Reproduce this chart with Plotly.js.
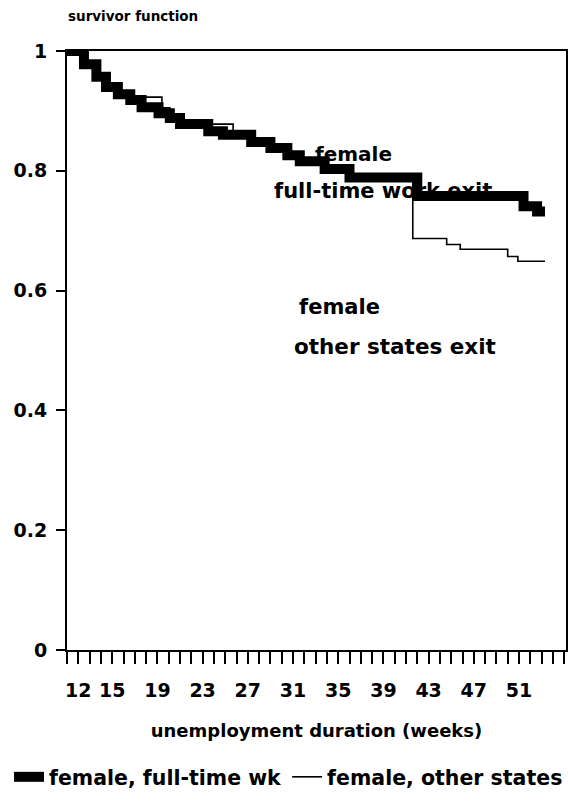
<!DOCTYPE html>
<html>
<head>
<meta charset="utf-8">
<script src="https://cdn.plot.ly/plotly-3.0.1.min.js"></script>
<style>html,body{margin:0;padding:0;background:#fff;}#chart{width:568px;height:801px;}</style>
</head>
<body>
<div id="chart"></div>
<script>
// Survivor function, female, full-time work exit (weeks, survival)
var fullTimeWeeks = [11, 12.5, 13.6, 14.45, 15.5, 16.6, 17.6, 19.1, 20.1, 21.0, 23.5, 24.8, 27.3, 29.0, 30.5, 31.6, 33.8, 36.0, 42.0, 51.4, 52.6, 53.3];
var fullTimeSurv  = [1.0, 0.978, 0.957, 0.940, 0.928, 0.918, 0.906, 0.896, 0.888, 0.878, 0.866, 0.860, 0.848, 0.838, 0.826, 0.816, 0.803, 0.789, 0.758, 0.741, 0.732, 0.732];

// Survivor function, female, other states exit
var otherWeeks = [11, 12.5, 13.6, 14.45, 15.5, 16.6, 19.4, 20.1, 21.0, 25.7, 27.3, 29.0, 30.5, 31.6, 33.8, 36.0, 41.6, 44.6, 45.8, 50.0, 50.9, 53.3];
var otherSurv  = [1.0, 0.978, 0.960, 0.945, 0.932, 0.923, 0.905, 0.893, 0.878, 0.862, 0.850, 0.840, 0.830, 0.820, 0.805, 0.792, 0.687, 0.677, 0.669, 0.657, 0.649, 0.649];

var seriesNames = ['female, full-time wk', 'female, other states'];
var xTickLabels = [12, 15, 19, 23, 27, 31, 35, 39, 43, 47, 51];
var yTickVals = [0, 0.2, 0.4, 0.6, 0.8, 1];
var firstWeek = 11, lastWeek = 55;

var tickVals = [], tickText = [];
for (var w = firstWeek; w <= lastWeek; w++) {
  tickVals.push(w);
  tickText.push(xTickLabels.indexOf(w) >= 0 ? String(w) : '');
}

var FONT = 'DejaVu Sans, sans-serif';

var traces = [
  {x: fullTimeWeeks, y: fullTimeSurv, name: seriesNames[0], type: 'scatter', mode: 'lines',
   line: {shape: 'hv', color: '#000', width: 10}},
  {x: otherWeeks, y: otherSurv, name: seriesNames[1], type: 'scatter', mode: 'lines',
   line: {shape: 'hv', color: '#000', width: 1.6}}
];

var layout = {
  width: 568, height: 801,
  margin: {l: 67, r: 2, t: 51, b: 151, pad: 0},
  paper_bgcolor: '#fff', plot_bgcolor: '#fff',
  showlegend: true,
  font: {family: FONT, color: '#000'},
  title: {text: 'survivor function', x: 68/568, xanchor: 'left', y: 1 - 16/801, yanchor: 'middle',
          font: {family: FONT, size: 13.5, weight: 'bold', color: '#000'}},
  xaxis: {
    range: [11, 11 + 499/11.3], tickmode: 'array', tickvals: tickVals, ticktext: tickText,
    ticks: 'outside', ticklen: 12, tickwidth: 2, tickcolor: '#000',
    showline: true, linecolor: '#000', linewidth: 2, mirror: true,
    showgrid: false, zeroline: false, ticklabelstandoff: 10,
    tickfont: {family: FONT, size: 19, weight: 'bold', color: '#000'},
    title: {text: 'unemployment duration (weeks)', standoff: 25,
            font: {family: FONT, size: 18, weight: 'bold', color: '#000'}},
    automargin: false
  },
  yaxis: {
    range: [0, 1], tickmode: 'array', tickvals: yTickVals,
    ticks: 'outside', ticklen: 9, tickwidth: 2, tickcolor: '#000',
    showline: true, linecolor: '#000', linewidth: 2, mirror: true,
    showgrid: false, zeroline: false, ticklabelstandoff: 5,
    tickfont: {family: FONT, size: 19, weight: 'bold', color: '#000'},
    automargin: false
  },
  legend: {
    orientation: 'h', x: (12 - 67)/499, xanchor: 'left', y: (650 - 777)/599, yanchor: 'middle',
    font: {family: FONT, size: 20.5, weight: 'bold', color: '#000'},
    itemwidth: 30, tracegroupgap: 0, bgcolor: 'rgba(0,0,0,0)'
  },
  annotations: [
    {x: 32.8, y: 0.828, xref: 'x', yref: 'y', text: 'female', showarrow: false, xanchor: 'left', yanchor: 'middle',
     font: {family: FONT, size: 20, weight: 'bold', color: '#000'}},
    {x: 29.1, y: 0.766, xref: 'x', yref: 'y', text: 'full-time work exit', showarrow: false, xanchor: 'left', yanchor: 'middle',
     font: {family: FONT, size: 21, weight: 'bold', color: '#000'}},
    {x: 31.35, y: 0.572, xref: 'x', yref: 'y', text: 'female', showarrow: false, xanchor: 'left', yanchor: 'middle',
     font: {family: FONT, size: 21, weight: 'bold', color: '#000'}},
    {x: 30.9, y: 0.507, xref: 'x', yref: 'y', text: 'other states exit', showarrow: false, xanchor: 'left', yanchor: 'middle',
     font: {family: FONT, size: 21.5, weight: 'bold', color: '#000'}}
  ]
};

Plotly.newPlot('chart', traces, layout, {staticPlot: true, displayModeBar: false});
</script>
</body>
</html>
